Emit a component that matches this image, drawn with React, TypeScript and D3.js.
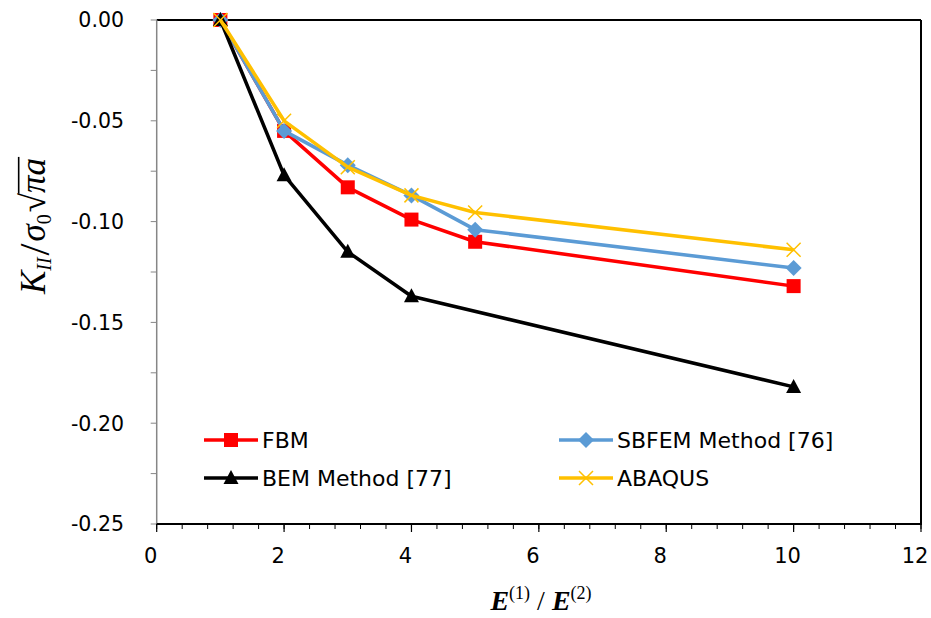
import React, { useLayoutEffect, useRef, useState } from "react";
import * as d3 from "d3";

const xs = [1, 2, 3, 4, 5, 10];
const fbm = [0, -0.055, -0.083, -0.099, -0.110, -0.132];
const sbfem = [0, -0.055, -0.072, -0.087, -0.104, -0.123];
const bemX = [1, 2, 3, 4, 10];
const bem = [0, -0.077, -0.115, -0.137, -0.182];
const abaqus = [0, -0.050, -0.073, -0.087, -0.0955, -0.114];

const xTicks = [0, 2, 4, 6, 8, 10, 12];
const xTickLabels = ["0", "2", "4", "6", "8", "10", "12"];
const yTicks = [0, -0.05, -0.1, -0.15, -0.2, -0.25];
const yTickLabels = ["0.00", "-0.05", "-0.10", "-0.15", "-0.20", "-0.25"];

const seriesNames = ["FBM", "SBFEM Method [76]", "BEM Method [77]", "ABAQUS"];
const seriesColors = ["#FF0000", "#5B9BD5", "#000000", "#FFC000"];
const seriesMarkers = ["square", "diamond", "triangle", "x"];

const W = 931, H = 618;
const L = 156.7, R = 921, T = 20, B = 524;

function Marker({ type, x, y, color }: { type: string; x: number; y: number; color: string }) {
  if (type === "square") return <rect x={x - 7} y={y - 7} width={14} height={14} fill={color} />;
  if (type === "diamond") {
    const s = 8;
    return <path d={`M${x},${y - s}L${x + s},${y}L${x},${y + s}L${x - s},${y}Z`} fill={color} />;
  }
  if (type === "triangle") {
    return <path d={`M${x},${y - 8}L${x + 7.5},${y + 6}L${x - 7.5},${y + 6}Z`} fill={color} />;
  }
  const s = 7;
  return (
    <path d={`M${x - s},${y - s}L${x + s},${y + s}M${x + s},${y - s}L${x - s},${y + s}`} stroke={color} strokeWidth={1.5} fill="none" />
  );
}

export default function App() {
  const x = d3.scaleLinear().domain([0, 12]).range([L, R]);
  const y = d3.scaleLinear().domain([0, -0.25]).range([T, B]);
  const line = d3.line<[number, number]>().x((d) => x(d[0])).y((d) => y(d[1]));

  const sqrtRef = useRef<SVGTSpanElement | null>(null);
  const radRef = useRef<SVGTSpanElement | null>(null);
  const [vinc, setVinc] = useState<{ x1: number; x2: number; y: number } | null>(null);

  useLayoutEffect(() => {
    const s = sqrtRef.current as any;
    const r = radRef.current as any;
    if (s && r && s.getBBox && r.getBBox) {
      const sb = s.getBBox();
      const rb = r.getBBox();
      setVinc({ x1: sb.x + sb.width - 1.5, x2: rb.x + rb.width + 1, y: sb.y + sb.height * 0.12 });
    }
  }, []);

  const data: [number, number][][] = [
    xs.map((v, i) => [v, fbm[i]] as [number, number]),
    xs.map((v, i) => [v, sbfem[i]] as [number, number]),
    bemX.map((v, i) => [v, bem[i]] as [number, number]),
    xs.map((v, i) => [v, abaqus[i]] as [number, number]),
  ];

  const xMinor = d3.range(0, 12.001, 0.4);
  const yMinor = d3.range(0, -0.2501, -0.025);

  const legendPos = [
    { lx: 204, ly: 440 },
    { lx: 559, ly: 440 },
    { lx: 204, ly: 478 },
    { lx: 559, ly: 478 },
  ];

  const tickFont = "DejaVu Sans";
  const serif = "Liberation Serif, Times New Roman, serif";

  return (
    <svg width={W} height={H} style={{ position: "absolute", left: 0, top: 0, background: "#fff" }}>
      <rect width={W} height={H} fill="#fff" />
      {/* frame */}
      <line x1={L} x2={R} y1={T} y2={T} stroke="#000" strokeWidth={2} />
      <line x1={R} x2={R} y1={T} y2={B} stroke="#000" strokeWidth={2} />
      {/* y axis */}
      <line x1={L} x2={L} y1={T} y2={B} stroke="#868686" strokeWidth={1.5} />
      {yMinor.map((v, i) => (
        <line key={"ym" + i} x1={L - 6} x2={L} y1={y(v)} y2={y(v)} stroke="#868686" strokeWidth={1} />
      ))}
      {yTicks.map((v, i) => (
        <text key={"yt" + i} x={124} y={y(v)} dy="0.36em" textAnchor="end" fontFamily={tickFont} fontSize={20.5} fill="#000">
          {yTickLabels[i]}
        </text>
      ))}
      {/* x axis */}
      <line x1={L} x2={R + 1} y1={B} y2={B} stroke="#000" strokeWidth={2} />
      {xMinor.map((v, i) => (
        <line key={"xm" + i} x1={x(v)} x2={x(v)} y1={B} y2={B + 5} stroke="#000" strokeWidth={1} />
      ))}
      {xTicks.map((v, i) => (
        <g key={"xt" + i}>
          <line x1={x(v)} x2={x(v)} y1={B} y2={B + 8} stroke="#000" strokeWidth={1.2} />
          <text x={x(v) - 6} y={563} textAnchor="middle" fontFamily={tickFont} fontSize={21} fill="#000">
            {xTickLabels[i]}
          </text>
        </g>
      ))}
      {/* series */}
      {data.map((d, si) => (
        <g key={"s" + si}>
          <path d={line(d) || ""} fill="none" stroke={seriesColors[si]} strokeWidth={3.5} strokeLinejoin="round" />
          {d.map((p, pi) => (
            <Marker key={pi} type={seriesMarkers[si]} x={x(p[0])} y={y(p[1])} color={seriesColors[si]} />
          ))}
        </g>
      ))}
      {/* legend */}
      {seriesNames.map((n, i) => {
        const { lx, ly } = legendPos[i];
        return (
          <g key={"lg" + i}>
            <line x1={lx} x2={lx + 54} y1={ly} y2={ly} stroke={seriesColors[i]} strokeWidth={3.5} />
            <Marker type={seriesMarkers[i]} x={lx + 27} y={ly} color={seriesColors[i]} />
            <text x={lx + 58} y={ly + 8} fontFamily={tickFont} fontSize={22} fill="#000">
              {n}
            </text>
          </g>
        );
      })}
      {/* y label */}
      <g transform="translate(45,226) rotate(-90)">
        <text textAnchor="middle" fontFamily={serif} fontSize={35} fill="#000">
          <tspan fontStyle="italic">K</tspan>
          <tspan fontStyle="italic" fontSize={20} dy={6}>II</tspan>
          <tspan fontSize={43} dy={-2} dx={2}>/</tspan>
          <tspan fontStyle="italic" dy={-4} dx={2}>σ</tspan>
          <tspan fontSize={20} dy={6}>0</tspan>
          <tspan ref={sqrtRef} dy={-6} dx={2}>√</tspan>
          <tspan ref={radRef} fontStyle="italic">πa</tspan>
        </text>
        {vinc && <line x1={vinc.x1} x2={vinc.x2} y1={vinc.y} y2={vinc.y} stroke="#000" strokeWidth={1.6} />}
      </g>
      {/* x label */}
      <text x={541} y={610} textAnchor="middle" fontFamily={serif} fontSize={28} fill="#000">
        <tspan fontStyle="italic" fontWeight="bold">E</tspan>
        <tspan fontSize={18} dy={-11}>(1)</tspan>
        <tspan dy={11}> / </tspan>
        <tspan fontStyle="italic" fontWeight="bold">E</tspan>
        <tspan fontSize={18} dy={-11}>(2)</tspan>
      </text>
    </svg>
  );
}
